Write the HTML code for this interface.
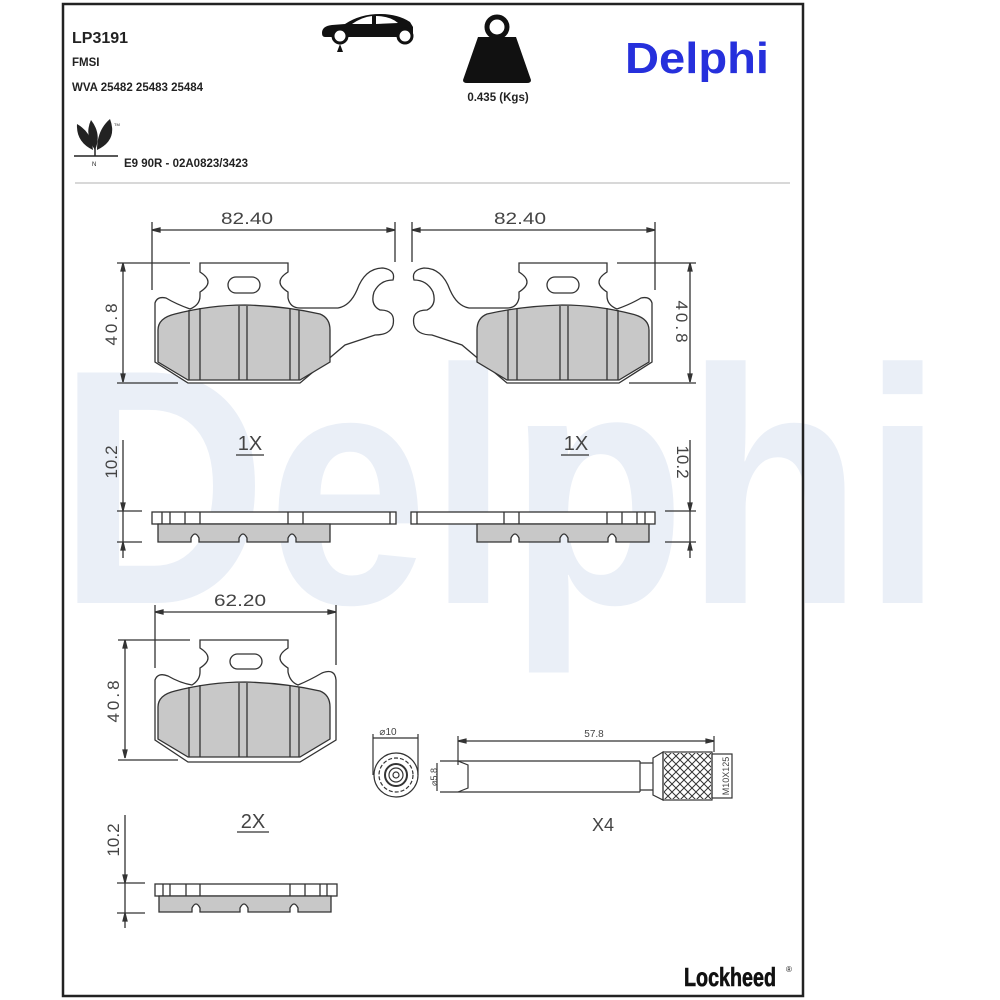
<!DOCTYPE html>
<html><head><meta charset="utf-8"><style>
html,body{margin:0;padding:0;background:#fff;}
svg{display:block;}
text{font-family:"Liberation Sans","DejaVu Sans",sans-serif;}
.d{font-family:"DejaVu Sans Condensed","DejaVu Sans",sans-serif;fill:#444;font-weight:300;}
</style></head><body>
<svg width="1000" height="1000" viewBox="0 0 1000 1000" xmlns="http://www.w3.org/2000/svg">
<rect width="1000" height="1000" fill="#fff"/>
<!-- watermark -->
<text x="58" y="603" font-size="335" font-weight="bold" fill="#eaeff7" textLength="885" lengthAdjust="spacingAndGlyphs">Delphi</text>
<!-- frame -->
<rect x="63" y="4" width="740" height="992" fill="none" stroke="#222" stroke-width="2.5"/>
<line x1="75" y1="183" x2="790" y2="183" stroke="#ccc" stroke-width="1.5"/>

<!-- header -->
<g font-weight="bold" fill="#222">
<text x="72" y="43" font-size="16">LP3191</text>
<text x="72" y="66" font-size="11.5">FMSI</text>
<text x="72" y="91" font-size="11.5">WVA 25482 25483 25484</text>
<text x="124" y="167" font-size="11.5">E9 90R - 02A0823/3423</text>
<text x="498" y="101" font-size="11.5" text-anchor="middle">0.435 (Kgs)</text>
</g>
<text x="697" y="73" font-size="44" font-weight="bold" fill="#2630dc" text-anchor="middle" textLength="144" lengthAdjust="spacingAndGlyphs">Delphi</text>
<text x="730" y="986" font-size="26" font-weight="bold" fill="#111" font-family="Liberation Serif" text-anchor="middle" textLength="92" lengthAdjust="spacingAndGlyphs" stroke="#111" stroke-width="0.6">Lockheed</text>
<text x="786" y="972" font-size="8" fill="#111">®</text>

<!-- car icon -->
<g fill="#111">
<path d="M322,33 Q322,26 332,25 L345,24 Q360,14 380,14 Q398,14 410,22 L413,27 L413,33 Q413,37 408,37 L325,37 Q322,37 322,33Z"/>
<circle cx="340" cy="36" r="7" fill="#fff" stroke="#111" stroke-width="3"/>
<circle cx="405" cy="36" r="7" fill="#fff" stroke="#111" stroke-width="3"/>
<path d="M337,52 L340,44 L343,52Z"/>
</g>
<path d="M352,24 Q362,17 372,16 L372,24Z M376,16 Q390,16 398,23 L376,24Z" fill="#fff"/>
<!-- weight -->
<g fill="#111">
<circle cx="497" cy="27" r="10" fill="none" stroke="#111" stroke-width="5"/>
<path d="M478,37 L516,37 L531,80 Q531,83 527,83 L467,83 Q463,83 463,80 Z"/>
</g>
<!-- leaf -->
<g fill="#222">
<path d="M93,150 Q76,142 77,124 Q84,128 88,134 Q92,140 93,150Z"/>
<path d="M97,150 Q97,130 110,119 Q118,140 97,150Z"/>
<path d="M95,150 Q84,135 91,120 Q102,134 95,150Z"/>
<line x1="95" y1="148" x2="95" y2="156" stroke="#222" stroke-width="1.5"/>
<line x1="74" y1="156" x2="118" y2="156" stroke="#222" stroke-width="1.5"/>
<text x="92" y="166" font-size="6">N</text>
<text x="114" y="126" font-size="4">TM</text>
</g>

<!-- ===== top pads ===== -->
<g id="padL" fill="none" stroke="#333" stroke-width="1.3">
  <line x1="152" y1="230" x2="395" y2="230"/>
  <line x1="152" y1="222" x2="152" y2="290"/>
  <line x1="395" y1="222" x2="395" y2="262"/>
  <path d="M152,230 l8,-2 v4z M395,230 l-8,-2 v4z" fill="#333"/>
  <path d="M155,303 Q157,296 166,298 Q176,304 190,309 Q200,305 200,296 L200,292 Q216,282 200,272 L200,263 L288,263 L288,272 Q272,282 288,292 L288,298 Q290,308 300,308 L338,308 Q350,306 357,290 Q365,268 383,268 Q396,270 393,280 Q380,280 374,292 Q370,305 380,310 Q396,310 393,325 Q390,335 375,335 L345,345 L300,383 L188,383 L155,362 Z" fill="#fff"/>
  <rect x="228" y="277" width="32" height="16" rx="8"/>
  <path d="M158,330 Q158,318 175,314 Q210,305 245,305 Q285,306 320,314 Q330,318 330,330 L330,362 L300,380 L188,380 L158,362 Z" fill="#c8c8c8"/>
  <path d="M189,310 V380 M200,308 V380 M239,306 V380 M247,306 V380 M290,308 V380 M299,310 V380"/>
  <rect x="152" y="512" width="244" height="12" fill="#fff"/>
  <path d="M162,512 V524 M170,512 V524 M185,512 V524 M200,512 V524 M288,512 V524 M303,512 V524 M390,512 V524"/>
  <path d="M158,524 H330 V542 H296 V538 Q292,530 288,538 V542 H247 V538 Q243,530 239,538 V542 H199 V538 Q195,530 191,538 V542 H158 Z" fill="#c8c8c8"/>
</g>
<use href="#padL" transform="translate(807,0) scale(-1,1)"/>
<g fill="none" stroke="#333" stroke-width="1.3">
  <line x1="123" y1="263" x2="123" y2="382"/>
  <line x1="117" y1="263" x2="190" y2="263"/>
  <line x1="117" y1="383" x2="178" y2="383"/>
  <path d="M123,263 l-2,8 h4z M123,382 l-2,-8 h4z" fill="#333"/>
  <line x1="690" y1="263" x2="690" y2="382"/>
  <line x1="617" y1="263" x2="696" y2="263"/>
  <line x1="629" y1="383" x2="696" y2="383"/>
  <path d="M690,263 l-2,8 h4z M690,382 l-2,-8 h4z" fill="#333"/>
  <line x1="123" y1="440" x2="123" y2="558"/>
  <line x1="117" y1="511" x2="142" y2="511"/>
  <line x1="117" y1="542" x2="142" y2="542"/>
  <path d="M123,511 l-2,-8 h4z M123,542 l-2,8 h4z" fill="#333"/>
  <line x1="690" y1="440" x2="690" y2="558"/>
  <line x1="665" y1="511" x2="696" y2="511"/>
  <line x1="665" y1="542" x2="696" y2="542"/>
  <path d="M690,511 l-2,-8 h4z M690,542 l-2,8 h4z" fill="#333"/>
  <line x1="236" y1="455" x2="264" y2="455"/>
  <line x1="561" y1="455" x2="589" y2="455"/>
</g>
<g class="d" font-size="17">
  <text x="247" y="224" text-anchor="middle" textLength="52" lengthAdjust="spacingAndGlyphs">82.40</text>
  <text x="520" y="224" text-anchor="middle" textLength="52" lengthAdjust="spacingAndGlyphs">82.40</text>
  <text transform="translate(117,323) rotate(-90)" text-anchor="middle" letter-spacing="3">40.8</text>
  <text transform="translate(676,323) rotate(90)" text-anchor="middle" letter-spacing="3">40.8</text>
  <text transform="translate(117,462) rotate(-90)" text-anchor="middle">10.2</text>
  <text transform="translate(677,462) rotate(90)" text-anchor="middle">10.2</text>
  <text x="250" y="450" text-anchor="middle" font-size="20">1X</text>
  <text x="576" y="450" text-anchor="middle" font-size="20">1X</text>
</g>

<!-- ===== bottom pad ===== -->
<g fill="none" stroke="#333" stroke-width="1.3">
  <line x1="155" y1="612" x2="336" y2="612"/>
  <line x1="155" y1="605" x2="155" y2="668"/>
  <line x1="336" y1="605" x2="336" y2="665"/>
  <path d="M155,612 l8,-2 v4z M336,612 l-8,-2 v4z" fill="#333"/>
  <line x1="125" y1="640" x2="125" y2="758"/>
  <line x1="118" y1="640" x2="190" y2="640"/>
  <line x1="118" y1="760" x2="178" y2="760"/>
  <path d="M125,640 l-2,8 h4z M125,758 l-2,-8 h4z" fill="#333"/>
  <path d="M155,680 Q158,672 168,676 Q180,683 192,685 Q200,680 200,672 L200,668 Q216,658 200,648 L200,640 L288,640 L288,648 Q272,658 288,668 L288,672 Q290,682 298,685 Q310,680 322,673 Q335,668 336,680 L336,740 L300,762 L188,762 L155,740 Z" fill="#fff"/>
  <rect x="230" y="654" width="32" height="15" rx="7.5"/>
  <g transform="translate(0,377)">
  <path d="M158,330 Q158,318 175,314 Q210,305 245,305 Q285,306 320,314 Q330,318 330,330 L330,362 L300,380 L188,380 L158,362 Z" fill="#c8c8c8"/>
  <path d="M189,310 V380 M200,308 V380 M239,306 V380 M247,306 V380 M290,308 V380 M299,310 V380"/>
  </g>
  <line x1="125" y1="815" x2="125" y2="928"/>
  <line x1="117" y1="883" x2="145" y2="883"/>
  <line x1="117" y1="913" x2="145" y2="913"/>
  <path d="M125,883 l-2,-8 h4z M125,913 l-2,8 h4z" fill="#333"/>
  <rect x="155" y="884" width="182" height="12" fill="#fff"/>
  <path d="M163,884 V896 M170,884 V896 M186,884 V896 M200,884 V896 M290,884 V896 M305,884 V896 M320,884 V896 M327,884 V896"/>
  <path d="M159,896 H331 V912 H298 V908 Q294,900 290,908 V912 H248 V908 Q244,900 240,908 V912 H200 V908 Q196,900 192,908 V912 H159 Z" fill="#c8c8c8"/>
  <line x1="237" y1="832" x2="269" y2="832"/>
</g>
<g class="d" font-size="17">
  <text x="240" y="606" text-anchor="middle" textLength="52" lengthAdjust="spacingAndGlyphs">62.20</text>
  <text transform="translate(119,700) rotate(-90)" text-anchor="middle" letter-spacing="3">40.8</text>
  <text transform="translate(119,840) rotate(-90)" text-anchor="middle">10.2</text>
  <text x="253" y="828" text-anchor="middle" font-size="20">2X</text>
</g>

<!-- ===== pin ===== -->
<g fill="none" stroke="#333" stroke-width="1.2">
  <line x1="373" y1="738" x2="418" y2="738"/>
  <line x1="373" y1="734" x2="373" y2="775"/>
  <line x1="418" y1="734" x2="418" y2="775"/>
  <circle cx="396" cy="775" r="22"/>
  <circle cx="396" cy="775" r="17" stroke-dasharray="4 2"/>
  <circle cx="396" cy="775" r="11" stroke-width="2"/>
  <circle cx="396" cy="775" r="7"/>
  <circle cx="396" cy="775" r="3"/>
  <line x1="458" y1="741" x2="714" y2="741"/>
  <path d="M458,741 l8,-2 v4z M714,741 l-8,-2 v4z" fill="#333"/>
  <line x1="458" y1="736" x2="458" y2="765"/>
  <line x1="714" y1="736" x2="714" y2="752"/>
  <line x1="440" y1="761" x2="640" y2="761"/>
  <line x1="440" y1="792" x2="640" y2="792"/>
  <path d="M458,761 L468,765 V788 L458,792"/>
  <line x1="437" y1="763" x2="437" y2="791"/>
  <path d="M640,761 V792 M640,763 H653 V790 H640 M653,758 L663,752 V800 L653,795 Z"/>
  <rect x="663" y="752" width="49" height="48"/>
  <rect x="712" y="754" width="20" height="44"/>
</g>
<defs>
<pattern id="xp" width="8" height="8" patternUnits="userSpaceOnUse"><path d="M0,0 L8,8 M8,0 L0,8" stroke="#333" stroke-width="1"/></pattern></defs>
<rect x="664" y="753" width="47" height="46" fill="url(#xp)"/>
<g class="d" font-size="10">
  <text x="388" y="735" text-anchor="middle">⌀10</text>
  <text x="594" y="737" text-anchor="middle">57.8</text>
  <text transform="translate(437,777) rotate(-90)" text-anchor="middle" font-size="9">⌀5.8</text>
  <text transform="translate(729,776) rotate(-90)" text-anchor="middle" font-size="9">M10X125</text>
  <text x="603" y="831" text-anchor="middle" font-size="18">X4</text>
</g>
</svg>
</body></html>
